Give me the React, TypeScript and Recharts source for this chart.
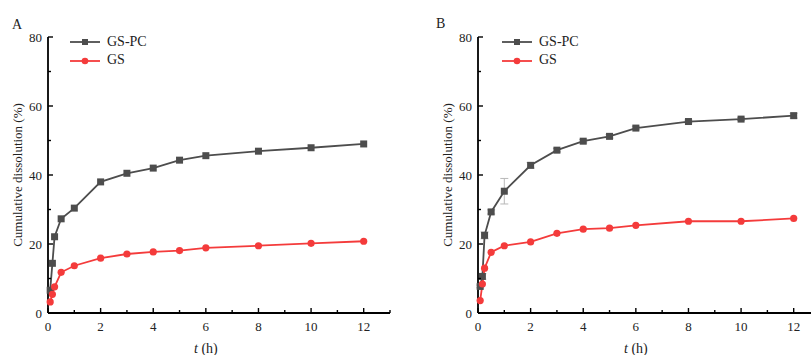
import { ErrorBar, Legend, Line, LineChart, XAxis, YAxis } from "recharts";

// sampling times (h)
const times = [0.083, 0.167, 0.25, 0.5, 1, 2, 3, 4, 5, 6, 8, 10, 12];

// panel A
const gsPcA = [6.6, 14.4, 22.1, 27.3, 30.4, 38.0, 40.5, 42.0, 44.3, 45.6, 46.9, 47.9, 49.0];
const gsA = [3.2, 5.4, 7.6, 11.8, 13.7, 15.9, 17.1, 17.7, 18.1, 18.9, 19.5, 20.2, 20.8];

// panel B
const gsPcB = [7.7, 10.6, 22.5, 29.3, 35.3, 42.8, 47.2, 49.8, 51.2, 53.6, 55.5, 56.2, 57.2];
const gsPcBErr = [0.4, 0.8, 1.0, 0.6, 3.7, 0.8, 0.5, 0.5, 0.5, 0.5, 0.4, 0.4, 0.7];
const gsB = [3.6, 8.4, 13.0, 17.6, 19.5, 20.6, 23.1, 24.3, 24.6, 25.4, 26.6, 26.6, 27.4];

const xTicks = [0, 1, 2, 3, 4, 5, 6, 7, 8, 9, 10, 11, 12, 13];
const yTicks = [0, 10, 20, 30, 40, 50, 60, 70, 80];

const FONT = '"Liberation Serif", "Times New Roman", serif';
const GREY = "#4d4d4d";
const RED = "#f43b3b";

const dataA = times.map((t, i) => ({ t, gspc: gsPcA[i], gs: gsA[i] }));
const dataB = times.map((t, i) => ({ t, gspc: gsPcB[i], err: gsPcBErr[i], gs: gsB[i] }));

const XTick = (props: any) => {
  const { x, y, payload } = props;
  const v = payload.value;
  const major = v % 2 === 0;
  return (
    <g>
      <line x1={x} x2={x} y1={y} y2={y - (major ? 5 : 3)} stroke="#000" strokeWidth={1.4} />
      {major && v <= 12 && (
        <text x={x} y={y + 18} textAnchor="middle" fontSize={13} fontFamily={FONT} fill="#222">
          {v}
        </text>
      )}
    </g>
  );
};

const YTick = (props: any) => {
  const { x, y, payload } = props;
  const v = payload.value;
  const major = v % 20 === 0;
  return (
    <g>
      <line x1={x} x2={x + (major ? 5 : 3)} y1={y} y2={y} stroke="#000" strokeWidth={1.4} />
      {major && (
        <text x={x - 6} y={y + 4.5} textAnchor="end" fontSize={13} fontFamily={FONT} fill="#222">
          {v}
        </text>
      )}
    </g>
  );
};

const YLabel = (props: any) => {
  const vb = props.viewBox;
  const cx = vb.x + vb.width - 31;
  const cy = vb.y + vb.height / 2;
  return (
    <text
      x={cx}
      y={cy}
      transform={`rotate(-90, ${cx}, ${cy})`}
      textAnchor="middle"
      dominantBaseline="central"
      fontSize={13}
      fontFamily={FONT}
      fill="#222"
    >
      Cumulative dissolution (%)
    </text>
  );
};

const XLabel = (props: any) => {
  const vb = props.viewBox;
  const cx = vb.x + (vb.width * 6) / 13;
  return (
    <text x={cx} y={vb.y + 40} textAnchor="middle" fontSize={14} fontFamily={FONT} fill="#222">
      <tspan fontStyle="italic">t</tspan> (h)
    </text>
  );
};

const Square = (p: any) => {
  if (p.cx == null || p.cy == null) return <g key={p.index} />;
  return <rect key={p.index} x={p.cx - 3.5} y={p.cy - 3.5} width={7} height={7} fill={GREY} />;
};

const LegendBox = () => (
  <div style={{ fontFamily: FONT, fontSize: 14, color: "#222", lineHeight: "18.4px" }}>
    {[
      { name: "GS-PC", color: GREY, square: true },
      { name: "GS", color: RED, square: false }
    ].map((row) => (
      <div key={row.name} style={{ display: "flex", alignItems: "center", height: 18.4 }}>
        <svg width={37} height={18} style={{ display: "block" }}>
          <line x1={0} x2={30} y1={9} y2={9} stroke={row.color} strokeWidth={1.8} />
          {row.square ? (
            <rect x={12} y={6} width={6} height={6} fill={row.color} />
          ) : (
            <circle cx={15} cy={9} r={3.3} fill={row.color} />
          )}
        </svg>
        <span>{row.name}</span>
      </div>
    ))}
  </div>
);

function Panel({ data, withErr, legendLeft }: { data: any[]; withErr?: boolean; legendLeft: number }) {
  return (
    <LineChart
      width={430}
      height={355}
      data={data}
      margin={{ top: 37, right: 40, bottom: 0, left: 0 }}
      style={{ fontFamily: FONT }}
    >
      <XAxis
        dataKey="t"
        type="number"
        domain={[0, 13]}
        ticks={xTicks}
        interval={0}
        height={42}
        tickSize={0}
        tickMargin={0}
        tick={<XTick />}
        axisLine={{ stroke: "#000", strokeWidth: 1.8 }}
        label={<XLabel />}
      />
      <YAxis
        type="number"
        domain={[0, 80]}
        ticks={yTicks}
        interval={0}
        width={48}
        tickSize={0}
        tickMargin={0}
        tick={<YTick />}
        axisLine={{ stroke: "#000", strokeWidth: 1.8 }}
        label={<YLabel />}
      />
      <Legend
        layout="vertical"
        align="center"
        verticalAlign="middle"
        content={<LegendBox />}
        wrapperStyle={{ position: "absolute", top: 33, left: legendLeft, width: "auto" }}
      />
      <Line
        dataKey="gspc"
        name="GS-PC"
        stroke={GREY}
        strokeWidth={1.8}
        dot={Square}
        activeDot={false}
        isAnimationActive={false}
      >
        {withErr && <ErrorBar dataKey="err" width={4} stroke="#b8b8b8" strokeWidth={1} />}
      </Line>
      <Line
        dataKey="gs"
        name="GS"
        stroke={RED}
        strokeWidth={1.8}
        dot={{ r: 3.6, fill: RED, stroke: RED, strokeWidth: 0 }}
        activeDot={false}
        isAnimationActive={false}
      />
    </LineChart>
  );
}

export default function App() {
  return (
    <div
      style={{
        position: "fixed",
        left: 0,
        top: 0,
        width: 811,
        height: 355,
        overflow: "hidden",
        background: "#fff"
      }}
    >
      <div style={{ position: "absolute", left: 0, top: 0 }}>
        <Panel data={dataA} legendLeft={70} />
      </div>
      <div style={{ position: "absolute", left: 430, top: 0 }}>
        <Panel data={dataB} withErr legendLeft={72} />
      </div>
      <div style={{ position: "absolute", left: 12, top: 17, fontFamily: FONT, fontSize: 14, color: "#222" }}>A</div>
      <div style={{ position: "absolute", left: 436, top: 16, fontFamily: FONT, fontSize: 14, color: "#222" }}>B</div>
    </div>
  );
}
